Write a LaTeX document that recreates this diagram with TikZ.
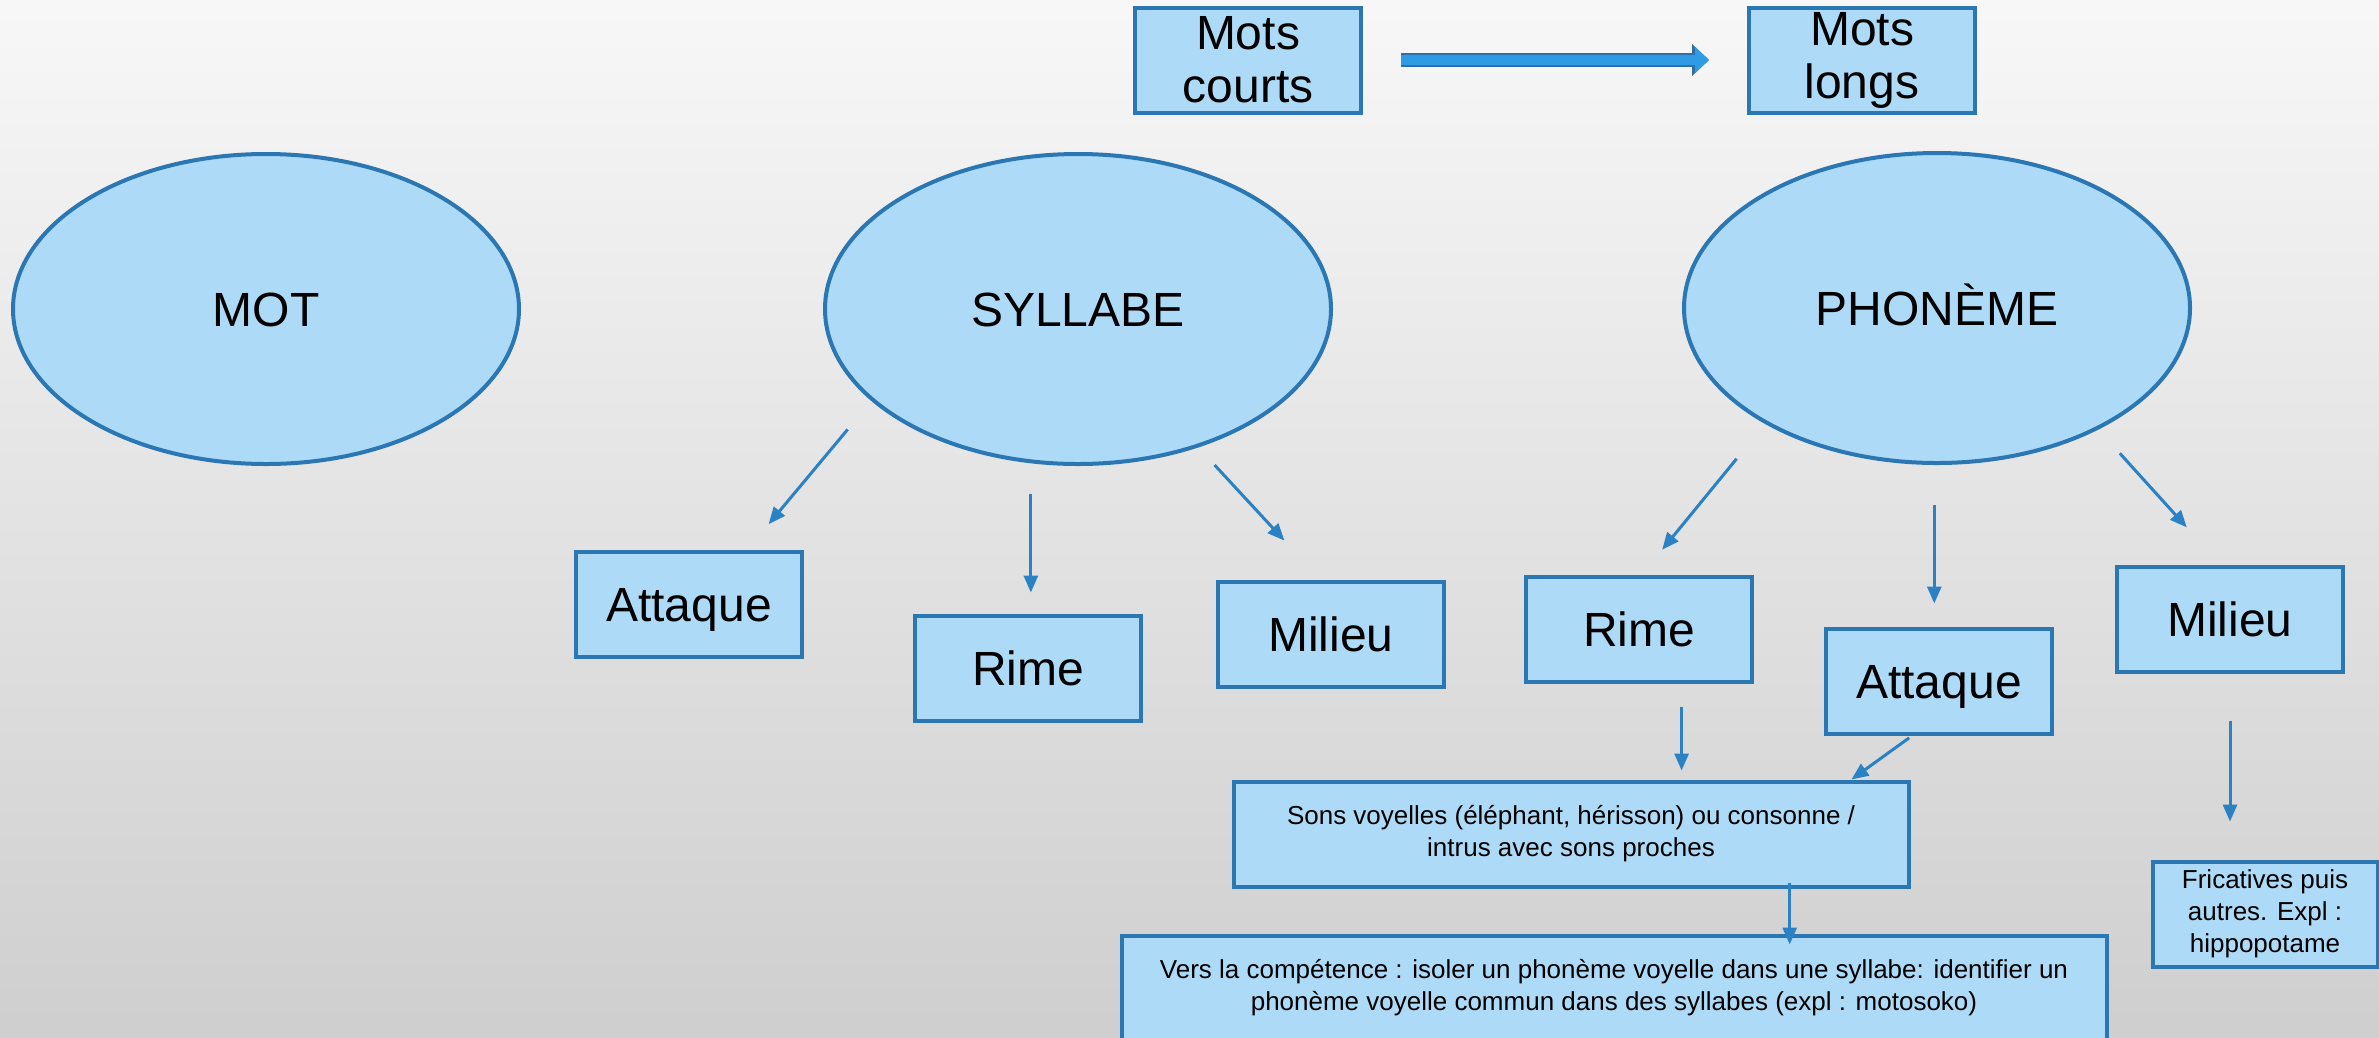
\documentclass[tikz,border=0pt]{standalone}
\usepackage{fontspec}
\setmainfont{Liberation Sans}
\usetikzlibrary{shapes.geometric, arrows.meta}

\definecolor{boxfill}{HTML}{ADDAF7}
\definecolor{boxline}{HTML}{2A77B4}
\definecolor{linkblue}{HTML}{2A82C4}
\definecolor{bigblue}{HTML}{2E9BE4}
\definecolor{bigedge}{HTML}{2D6FA8}

\tikzset{
    bulle/.style={ellipse, draw=boxline, fill=boxfill, line width=4pt, minimum width=506pt, minimum height=310pt, inner sep=0pt, font=\fontsize{48}{53}\selectfont, text height=35pt, text depth=0pt},
    boite/.style={rectangle, draw=boxline, fill=boxfill, line width=4pt, minimum height=105pt, inner sep=0pt, align=center},
    grand/.style={boite, minimum width=226pt, font=\fontsize{48}{53}\selectfont},
    court/.style={grand, text height=35pt, text depth=0pt},
    petit/.style={boite, font=\fontsize{26}{32}\selectfont},
    lien/.style={draw=linkblue, line width=3pt, -{Triangle[length=17pt, width=14pt]}},
    grosse/.style={draw=bigblue, line width=10pt, -{Triangle[length=14pt, width=25pt]}, preaction={draw=bigedge, line width=14pt, -{Triangle[length=17pt, width=31pt]}}}
}

\begin{document}
\begin{tikzpicture}[x=1pt, y=-1pt]
    \useasboundingbox (0, 0) rectangle (2379, 1037);
    \shade[top color=black!3, bottom color=black!19] (0, 0) rectangle (2379, 1037);
    \node[bulle] (mot) at (266, 309) {MOT};
    \node[bulle] (syl) at (1078, 309) {SYLLABE};
    \node[bulle] (pho) at (1937, 308) {PHONÈME};
    \node[grand] (courts) at (1248, 60) {Mots\\courts};
    \node[grand] (longs) at (1862, 60) {Mots\\longs};
    \node[court] (satt) at (689, 604) {Attaque};
    \node[court] (srime) at (1028, 668) {Rime};
    \node[court] (smil) at (1331, 634) {Milieu};
    \node[court] (prime) at (1639, 629) {Rime};
    \node[court] (patt) at (1939, 681) {Attaque};
    \node[court] (pmil) at (2230, 619) {Milieu};
    \node[petit, minimum width=675pt] (sons) at (1571, 834) {Sons voyelles (éléphant, hérisson) ou consonne /\\intrus avec sons proches};
    \node[petit, minimum width=985pt] (vers) at (1614, 988) {Vers la compétence : isoler un phonème voyelle dans une syllabe: identifier un\\phonème voyelle commun dans des syllabes (expl : motosoko)};
    \node[petit, minimum width=225pt] (fric) at (2265, 914) {Fricatives puis\\autres. Expl :\\hippopotame};
    \draw[grosse, shorten <=38pt, shorten >=38pt] (courts.east) -- (longs.west);
    \draw[lien, shorten <=37pt, shorten >=33pt] (syl.204) -- (satt.43);
    \draw[lien, shorten <=31pt, shorten >=21pt] (syl.253) -- (syl.253 |- srime.north);
    \draw[lien, shorten <=24pt, shorten >=53pt] (syl.311) -- (smil.101);
    \draw[lien, shorten <=45pt, shorten >=32pt] (pho.214) -- (prime.87);
    \draw[lien, shorten <=40pt, shorten >=23pt] (pho.269) -- (pho.269 |- patt.north);
    \draw[lien, shorten <=32pt, shorten >=50pt] (pho.323) -- (pmil.100);
    \draw[lien, shorten <=23pt, shorten >=9pt] (prime.308) -- (prime.308 |- sons.north);
    \draw[lien, shorten <=4pt] (patt.244) -- (sons.11);
    \draw[lien, shorten <=-6pt, shorten >=-11pt] (sons.346) -- (sons.346 |- vers.north);
    \draw[lien, shorten <=47pt, shorten >=38pt] (pmil.south) -- (pmil.south |- fric.north);
\end{tikzpicture}
\end{document}
